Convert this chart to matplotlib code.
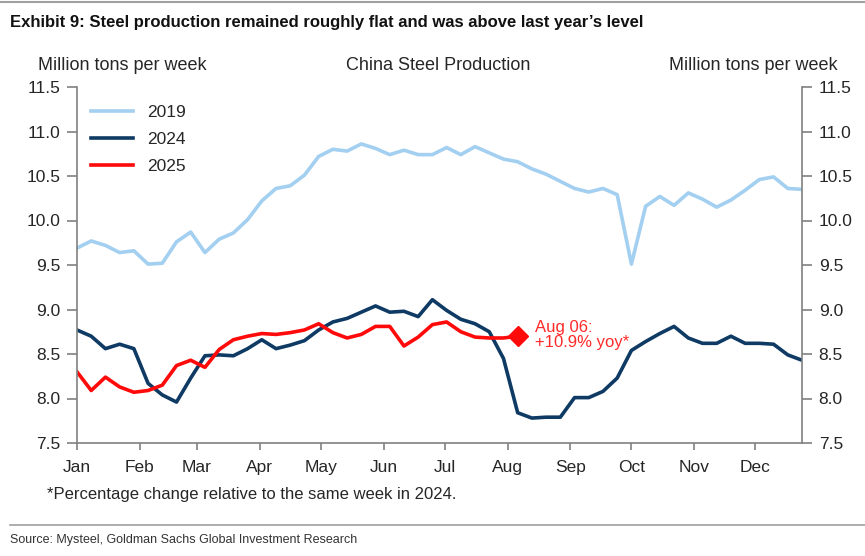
import matplotlib
matplotlib.use("Agg")
import matplotlib.pyplot as plt
from matplotlib.lines import Line2D

plt.rcParams['font.family'] = ['Liberation Sans', 'DejaVu Sans']

# ---------------- data ----------------
months = ["Jan", "Feb", "Mar", "Apr", "May", "Jun", "Jul", "Aug", "Sep", "Oct", "Nov", "Dec"]
month_start_day = [0, 31, 59, 90, 120, 151, 181, 212, 243, 273, 304, 334]

prod_2019 = [9.69, 9.77, 9.72, 9.64, 9.66, 9.51, 9.52, 9.76, 9.87, 9.64, 9.79, 9.86,
             10.01, 10.22, 10.36, 10.39, 10.51, 10.72, 10.80, 10.78, 10.86, 10.81, 10.74,
             10.79, 10.74, 10.74, 10.82, 10.74, 10.83, 10.76, 10.69, 10.66, 10.58, 10.52,
             10.44, 10.36, 10.32, 10.36, 10.29, 9.51, 10.16, 10.27, 10.17, 10.31, 10.24,
             10.15, 10.23, 10.34, 10.46, 10.49, 10.36, 10.35]
prod_2024 = [8.77, 8.70, 8.56, 8.61, 8.56, 8.17, 8.04, 7.96, 8.23, 8.48, 8.49, 8.48,
             8.56, 8.66, 8.56, 8.60, 8.65, 8.77, 8.86, 8.90, 8.97, 9.04, 8.97, 8.98,
             8.92, 9.11, 8.99, 8.89, 8.84, 8.75, 8.45, 7.84, 7.78, 7.79, 7.79, 8.01,
             8.01, 8.08, 8.23, 8.54, 8.64, 8.73, 8.81, 8.68, 8.62, 8.62, 8.70, 8.62,
             8.62, 8.61, 8.49, 8.43]
prod_2025 = [8.30, 8.09, 8.24, 8.13, 8.07, 8.09, 8.15, 8.37, 8.43, 8.35, 8.55, 8.66,
             8.70, 8.73, 8.72, 8.74, 8.77, 8.84, 8.74, 8.68, 8.72, 8.81, 8.81, 8.59,
             8.69, 8.83, 8.86, 8.75, 8.69, 8.68, 8.68, 8.70]
week_days_2019 = [7 * i for i in range(len(prod_2019))]
week_days_2024 = [7 * i for i in range(len(prod_2024))]
week_days_2025 = [7 * i for i in range(len(prod_2025))]
yticks = [7.5, 8.0, 8.5, 9.0, 9.5, 10.0, 10.5, 11.0, 11.5]
annotation = "Aug 06:\n+10.9% yoy*"

# ---------------- figure ----------------
W, H = 865, 556
fig = plt.figure(figsize=(W / 100, H / 100), dpi=100)
ax = fig.add_axes([77 / W, 1 - 443 / H, (802 - 77) / W, (443 - 87) / H])

c19, c24, c25 = "#A3CFF0", "#0E3A64", "#FF0A0A"
txt = "#262626"
spine_c = "#808080"

ax.plot(week_days_2019, prod_2019, color=c19, lw=2.6, label="2019", solid_joinstyle="round")
ax.plot(week_days_2024, prod_2024, color=c24, lw=2.6, label="2024", solid_joinstyle="round")
ax.plot(week_days_2025, prod_2025, color=c25, lw=2.6, label="2025", solid_joinstyle="round")
ax.plot([week_days_2025[-1]], [prod_2025[-1]], marker="D", color=c25, markersize=10, linestyle="none")

ax.text(week_days_2025[-1] + 8.5, prod_2025[-1] + 0.01, annotation, color="#FF2A2A", fontsize=12,
        ha="left", va="center", linespacing=1.0)

ax.set_xlim(0, 357)
ax.set_ylim(7.5, 11.5)
ax.set_xticks(month_start_day)
ax.set_xticklabels(months)
ax.set_yticks(yticks)
ax.set_yticklabels([f"{v:.1f}" for v in yticks])

ax.spines["top"].set_visible(False)
for s in ["left", "right", "bottom"]:
    ax.spines[s].set_color(spine_c)
    ax.spines[s].set_linewidth(1.2)

ax.tick_params(axis="y", which="both", left=True, right=True, labelleft=True, labelright=True,
               direction="out", length=7, width=1.2, color=spine_c, labelsize=12.5,
               labelcolor=txt, pad=5)
ax.tick_params(axis="x", direction="out", length=5, width=1.2, color=spine_c, labelsize=12.5,
               labelcolor=txt, pad=7)

leg = ax.legend(loc="upper left", bbox_to_anchor=(14 / 725, 0.95), frameon=False,
                fontsize=12.5, handlelength=2.4, handletextpad=0.85, labelspacing=0.68,
                borderpad=0, borderaxespad=0)
for t in leg.get_texts():
    t.set_color(txt)

# header labels
fig.text(38 / W, 1 - 66 / H, "Million tons per week", fontsize=13, color=txt, ha="left", va="center")
fig.text(438 / W, 1 - 66 / H, "China Steel Production", fontsize=13, color=txt, ha="center", va="center")
fig.text(838 / W, 1 - 66 / H, "Million tons per week", fontsize=13, color=txt, ha="right", va="center")

# title
fig.text(10 / W, 1 - 22 / H,
         "Exhibit 9: Steel production remained roughly flat and was above last year\u2019s level",
         fontsize=12, fontweight="bold", color="#111111", ha="left", va="center")

# footnote
fig.text(47 / W, 1 - 495 / H, "*Percentage change relative to the same week in 2024.",
         fontsize=12, color=txt, ha="left", va="center")

# source
fig.text(10 / W, 1 - 540 / H, "Source: Mysteel, Goldman Sachs Global Investment Research",
         fontsize=9, color="#333333", ha="left", va="center")

# rules
fig.add_artist(Line2D([0, 1], [1 - 1.5 / H, 1 - 1.5 / H], color="#A0A0A0", lw=1.5))
fig.add_artist(Line2D([10 / W, 1], [1 - 525 / H, 1 - 525 / H], color="#A0A0A0", lw=1.2))

fig.savefig("out.png", dpi=100)
